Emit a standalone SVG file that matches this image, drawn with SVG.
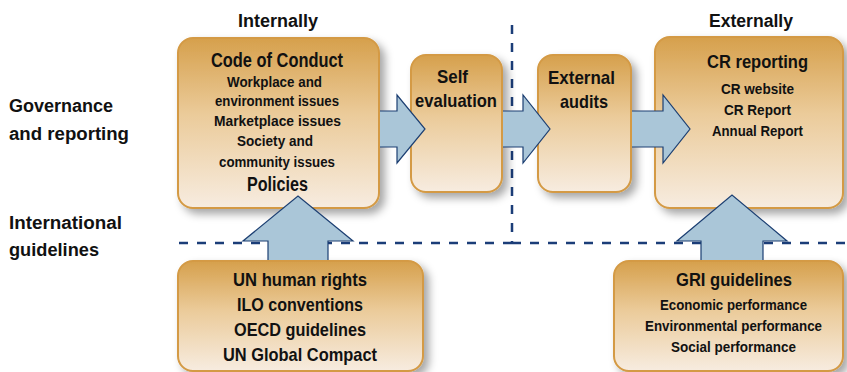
<svg xmlns="http://www.w3.org/2000/svg" width="847" height="372" viewBox="0 0 847 372">
  <defs>
    <linearGradient id="boxFill" x1="0" y1="0" x2="0" y2="1">
      <stop offset="0" stop-color="#d6a04c"/>
      <stop offset="0.45" stop-color="#ebcb9a"/>
      <stop offset="1" stop-color="#f7ece0"/>
    </linearGradient>
    <filter id="shadow" x="-10%" y="-10%" width="125%" height="125%">
      <feGaussianBlur in="SourceAlpha" stdDeviation="4"/>
      <feOffset dx="5" dy="5" result="blur"/>
      <feFlood flood-color="#000" flood-opacity="0.35"/>
      <feComposite in2="blur" operator="in"/>
      <feMerge>
        <feMergeNode/>
        <feMergeNode in="SourceGraphic"/>
      </feMerge>
    </filter>
  </defs>
  <style>
    .box { fill: url(#boxFill); stroke: #d49a44; stroke-width: 2; filter: url(#shadow); }
    .arrow { fill: #aac6d8; stroke: #1c3f72; stroke-width: 1.2; stroke-linejoin: miter; }
    .divider { fill: none; stroke: #1b3d78; stroke-width: 2.5; stroke-dasharray: 9 9; }
    text { font-family: "Liberation Sans", Arial, sans-serif; font-weight: bold; fill: #111; }
    .hdr { font-size: 18px; }
    .title { font-size: 19px; }
    .item { font-size: 15px; }
  </style>

  <!-- column and row labels -->
  <g id="labels">
    <text class="hdr" x="238" y="26.5" textLength="80" lengthAdjust="spacingAndGlyphs">Internally</text>
    <text class="hdr" x="709" y="26.5" textLength="84" lengthAdjust="spacingAndGlyphs">Externally</text>
    <text class="hdr" x="9" y="112" textLength="104" lengthAdjust="spacingAndGlyphs">Governance</text>
    <text class="hdr" x="9" y="140" textLength="120" lengthAdjust="spacingAndGlyphs">and reporting</text>
    <text class="hdr" x="9" y="229" textLength="113" lengthAdjust="spacingAndGlyphs">International</text>
    <text class="hdr" x="9" y="256" textLength="90" lengthAdjust="spacingAndGlyphs">guidelines</text>
  </g>

  <!-- dashed dividers between internal/external and the two rows -->
  <g id="dividers">
    <path class="divider" d="M512,25 V243"/>
    <path class="divider" d="M512,243 H178"/>
    <path class="divider" d="M512,243 H847"/>
  </g>

  <g id="code-of-conduct">
    <rect class="box" x="178" y="38" width="201" height="170" rx="15"/>
    <text class="title" x="211" y="66.5" textLength="132" lengthAdjust="spacingAndGlyphs" style="font-size:19.5px">Code of Conduct</text>
    <text class="item" x="227" y="86.5" textLength="95" lengthAdjust="spacingAndGlyphs">Workplace and</text>
    <text class="item" x="215" y="106" textLength="124" lengthAdjust="spacingAndGlyphs">environment issues</text>
    <text class="item" x="214" y="126" textLength="127" lengthAdjust="spacingAndGlyphs">Marketplace issues</text>
    <text class="item" x="237" y="146" textLength="76" lengthAdjust="spacingAndGlyphs">Society and</text>
    <text class="item" x="219" y="166.5" textLength="116" lengthAdjust="spacingAndGlyphs">community issues</text>
    <text class="title" x="247" y="191" textLength="61" lengthAdjust="spacingAndGlyphs" style="font-size:20px">Policies</text>
  </g>

  <g id="self-evaluation">
    <rect class="box" x="411" y="55" width="91" height="137" rx="15"/>
    <text class="title" x="437" y="82.5" textLength="31" lengthAdjust="spacingAndGlyphs">Self</text>
    <text class="title" x="415" y="106.5" textLength="82" lengthAdjust="spacingAndGlyphs">evaluation</text>
  </g>

  <g id="external-audits">
    <rect class="box" x="538" y="55" width="93" height="137" rx="15"/>
    <text class="title" x="548" y="84" textLength="67" lengthAdjust="spacingAndGlyphs">External</text>
    <text class="title" x="560" y="108" textLength="48" lengthAdjust="spacingAndGlyphs">audits</text>
  </g>

  <g id="cr-reporting">
    <rect class="box" x="655" y="37" width="188" height="171" rx="15"/>
    <text class="title" x="707" y="67.5" textLength="101" lengthAdjust="spacingAndGlyphs" style="font-size:18px">CR reporting</text>
    <text class="item" x="721" y="94" textLength="73" lengthAdjust="spacingAndGlyphs">CR website</text>
    <text class="item" x="724" y="115" textLength="67" lengthAdjust="spacingAndGlyphs">CR Report</text>
    <text class="item" x="712" y="136" textLength="91" lengthAdjust="spacingAndGlyphs">Annual Report</text>
  </g>

  <g id="international-guidelines">
    <rect class="box" x="178" y="261" width="245" height="110" rx="15"/>
    <text class="title" x="233" y="286" textLength="134" lengthAdjust="spacingAndGlyphs">UN human rights</text>
    <text class="title" x="237" y="310.5" textLength="126" lengthAdjust="spacingAndGlyphs">ILO conventions</text>
    <text class="title" x="234" y="336" textLength="132" lengthAdjust="spacingAndGlyphs">OECD guidelines</text>
    <text class="title" x="223" y="360.5" textLength="154" lengthAdjust="spacingAndGlyphs">UN Global Compact</text>
  </g>

  <g id="gri-guidelines">
    <rect class="box" x="614" y="261" width="229" height="110" rx="15"/>
    <text class="title" x="676" y="286" textLength="116" lengthAdjust="spacingAndGlyphs">GRI guidelines</text>
    <text class="item" x="660" y="310" textLength="147" lengthAdjust="spacingAndGlyphs">Economic performance</text>
    <text class="item" x="645" y="330.5" textLength="177" lengthAdjust="spacingAndGlyphs">Environmental performance</text>
    <text class="item" x="671" y="351.5" textLength="125" lengthAdjust="spacingAndGlyphs">Social performance</text>
  </g>

  <!-- block arrows; open paths so the stroke skips the edge that meets the source box -->
  <g id="connectors">
    <path class="arrow" d="M380,111 H397 V95 L425,129 L397,163 V147 H380"/>
    <path class="arrow" d="M503,111 H523 V95 L550,129 L523,163 V147 H503"/>
    <path class="arrow" d="M632,111 H663 V95 L690,129 L663,163 V147 H632"/>
    <path class="arrow" d="M268,260 V241 H243 L298,196 L353,241 H328 V260"/>
    <path class="arrow" d="M701,260 V241 H677 L732,195 L787,241 H763 V260"/>
  </g>
</svg>
